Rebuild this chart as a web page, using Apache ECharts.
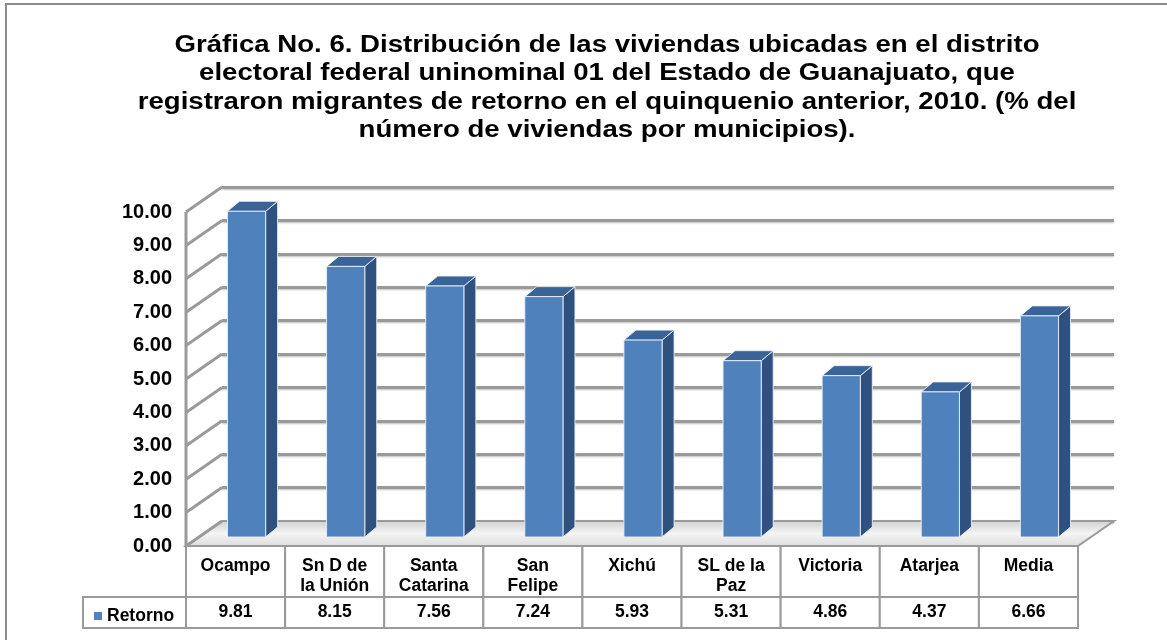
<!DOCTYPE html>
<html>
<head>
<meta charset="utf-8">
<script src="https://cdn.jsdelivr.net/npm/echarts@6/dist/echarts.min.js"></script>
<style>
    html, body { margin: 0; padding: 0; background: #fff; }
    #echarts6 { width: 1167px; height: 640px; }
</style>
</head>
<body>
<div id="echarts6"></div>

<script>
    // datos de la grafica
    var municipios = ['Ocampo', 'Sn D de\nla Unión', 'Santa\nCatarina', 'San\nFelipe', 'Xichú',
        'SL de la\nPaz', 'Victoria', 'Atarjea', 'Media'];
    var retorno = [9.81, 8.15, 7.56, 7.24, 5.93, 5.31, 4.86, 4.37, 6.66];
    var nombreSerie = 'Retorno';
    var marcasY = [0, 1, 2, 3, 4, 5, 6, 7, 8, 9, 10];

    var titulo = 'Gráfica No. 6. Distribución de las viviendas ubicadas en el distrito\n' +
        'electoral federal uninominal 01 del Estado de Guanajuato, que\n' +
        'registraron migrantes de retorno en el quinquenio anterior, 2010. (% del\n' +
        'número de viviendas por municipios).';

    var FUENTE = '"Liberation Sans", Arial, sans-serif';
    var DX = 36, DY = -25;        // profundidad de las paredes
    var BX = 12, BY = -10;        // profundidad de las barras
    var GRIS = '#9a9a9a';

    var myChart6 = echarts.init(document.getElementById('echarts6'));

    // piso + borde frontal de la pared izquierda
    function renderPiso(params, api) {
        var cs = params.coordSys;
        var y0 = api.coord([0, 0])[1];
        var x0 = cs.x, x1 = cs.x + cs.width;
        return {
            type: 'group',
            children: [{
                type: 'polygon',
                shape: {points: [[x0, y0], [x1, y0], [x1 + DX, y0 + DY], [x0 + DX, y0 + DY]]},
                style: {
                    fill: new echarts.graphic.LinearGradient(0, 0, 0, 1, [
                        {offset: 0, color: '#cfcfcf'},
                        {offset: 0.5, color: '#f4f4f4'},
                        {offset: 1, color: '#dcdcdc'}
                    ]),
                    stroke: GRIS, lineWidth: 2
                }
            }, {
                type: 'line',
                shape: {x1: x0, y1: cs.y, x2: x0, y2: y0},
                style: {stroke: GRIS, lineWidth: 3}
            }]
        };
    }

    // lineas inclinadas de la pared izquierda
    function renderPared(params, api) {
        var cs = params.coordSys;
        var y = api.coord([0, api.value(1)])[1];
        return {
            type: 'line',
            shape: {x1: cs.x, y1: y, x2: cs.x + DX, y2: y + DY},
            style: {stroke: GRIS, lineWidth: 3}
        };
    }

    // barras 3d
    function renderBarra(params, api) {
        var i = api.value(0);
        var top = api.coord([i, api.value(1)]);
        var base = api.coord([i, 0]);
        var w = api.size([1, 0])[0] * 0.385;
        var x0 = top[0] - w / 2, x1 = top[0] + w / 2;
        var borde = 'rgba(235,240,248,0.9)';
        return {
            type: 'group',
            children: [{
                type: 'polygon',
                shape: {points: [[x1, top[1]], [x1 + BX, top[1] + BY], [x1 + BX, base[1] + BY], [x1, base[1]]]},
                style: {fill: '#2f5180', stroke: borde, lineWidth: 1}
            }, {
                type: 'polygon',
                shape: {points: [[x0, top[1]], [x0 + BX, top[1] + BY], [x1 + BX, top[1] + BY], [x1, top[1]]]},
                style: {fill: '#3a6398', stroke: borde, lineWidth: 1}
            }, {
                type: 'rect',
                shape: {x: x0, y: top[1], width: w, height: base[1] - top[1]},
                style: {fill: '#4f81bd', stroke: borde, lineWidth: 1}
            }]
        };
    }

    // tabla de datos bajo el eje
    function renderTabla(params, api) {
        var i = api.value(0);
        var c = api.coord([i, 0]);
        var w = api.size([1, 0])[0];
        var x0 = c[0] - w / 2;
        var yA = c[1], yB = c[1] + 51, yC = c[1] + 82;
        return {
            type: 'group',
            children: [{
                type: 'rect',
                shape: {x: x0, y: yA, width: w, height: yB - yA},
                style: {fill: '#fff', stroke: GRIS, lineWidth: 2}
            }, {
                type: 'rect',
                shape: {x: x0, y: yB, width: w, height: yC - yB},
                style: {fill: '#fff', stroke: GRIS, lineWidth: 2}
            }, {
                type: 'text',
                x: c[0], y: yA + 10,
                style: {
                    text: municipios[i], textAlign: 'center', textVerticalAlign: 'top',
                    font: 'bold 17.5px ' + FUENTE, lineHeight: 20, fill: '#000'
                }
            }, {
                type: 'text',
                x: c[0], y: (yB + yC) / 2,
                style: {
                    text: api.value(1).toFixed(2), textAlign: 'center', textVerticalAlign: 'middle',
                    font: 'bold 17.5px ' + FUENTE, fill: '#000'
                }
            }]
        };
    }

    var option6 = {
        animation: false,
        legend: {
            data: [nombreSerie],
            left: 89,
            top: 602,
            icon: 'rect',
            itemWidth: 8,
            itemHeight: 8,
            itemGap: 5,
            selectedMode: false,
            textStyle: {fontFamily: FUENTE, fontWeight: 'bold', fontSize: 17.5, color: '#000'}
        },
        grid: [
            {left: 222, top: 187, width: 892, height: 334},   // pared del fondo
            {left: 186, top: 212, width: 892, height: 334},   // eje frontal
            {left: 197, top: 205, width: 892, height: 332}    // barras
        ],
        xAxis: [0, 1, 2].map(function (g) {
            return {type: 'category', gridIndex: g, data: municipios, show: false};
        }),
        yAxis: [{
            type: 'value', gridIndex: 0, min: 0, max: 10, interval: 1,
            axisLabel: {show: false}, axisLine: {show: false}, axisTick: {show: false},
            splitLine: {lineStyle: {color: GRIS, width: 3, shadowColor: 'rgba(0,0,0,0.25)', shadowBlur: 2, shadowOffsetY: 1}}
        }, {
            type: 'value', gridIndex: 1, min: 0, max: 10, interval: 1,
            axisLine: {show: false}, axisTick: {show: false}, splitLine: {show: false},
            axisLabel: {
                margin: 14, color: '#000', fontFamily: FUENTE, fontWeight: 'bold', fontSize: 20,
                formatter: function (v) { return v.toFixed(2); }
            }
        }, {
            type: 'value', gridIndex: 2, min: 0, max: 10, interval: 1, show: false
        }],
        series: [{
            name: 'piso', type: 'custom', xAxisIndex: 1, yAxisIndex: 1, z: 1,
            renderItem: renderPiso, data: [[0, 0]], silent: true
        }, {
            name: 'pared', type: 'custom', xAxisIndex: 1, yAxisIndex: 1, z: 2,
            renderItem: renderPared, data: marcasY.map(function (v) { return [0, v]; }), silent: true
        }, {
            name: nombreSerie, type: 'custom', xAxisIndex: 2, yAxisIndex: 2, z: 5,
            itemStyle: {color: '#4f81bd'},
            renderItem: renderBarra,
            encode: {x: 0, y: 1},
            data: retorno.map(function (v, i) { return [i, v]; })
        }, {
            name: 'tabla', type: 'custom', xAxisIndex: 1, yAxisIndex: 1, z: 6,
            renderItem: renderTabla, silent: true,
            data: retorno.map(function (v, i) { return [i, v]; })
        }],
        graphic: [{
            type: 'rect', z: 0,
            shape: {x: 6, y: 4, width: 1200, height: 700},
            style: {fill: 'none', stroke: '#8c8c8c', lineWidth: 2}
        }, {
            type: 'rect', z: 10,
            shape: {x: 83, y: 597, width: 103, height: 31},
            style: {fill: 'none', stroke: GRIS, lineWidth: 2}
        }, {
            // titulo (Excel lo dibuja algo ensanchado)
            type: 'text', z: 10,
            x: 607, y: 31, scaleX: 1.2,
            style: {
                text: titulo, textAlign: 'center', textVerticalAlign: 'top',
                font: 'bold 23px ' + FUENTE, lineHeight: 28.5, fill: '#000'
            }
        }]
    };

    myChart6.setOption(option6);
    window.onresize = myChart6.resize;
</script>
</body>
</html>
